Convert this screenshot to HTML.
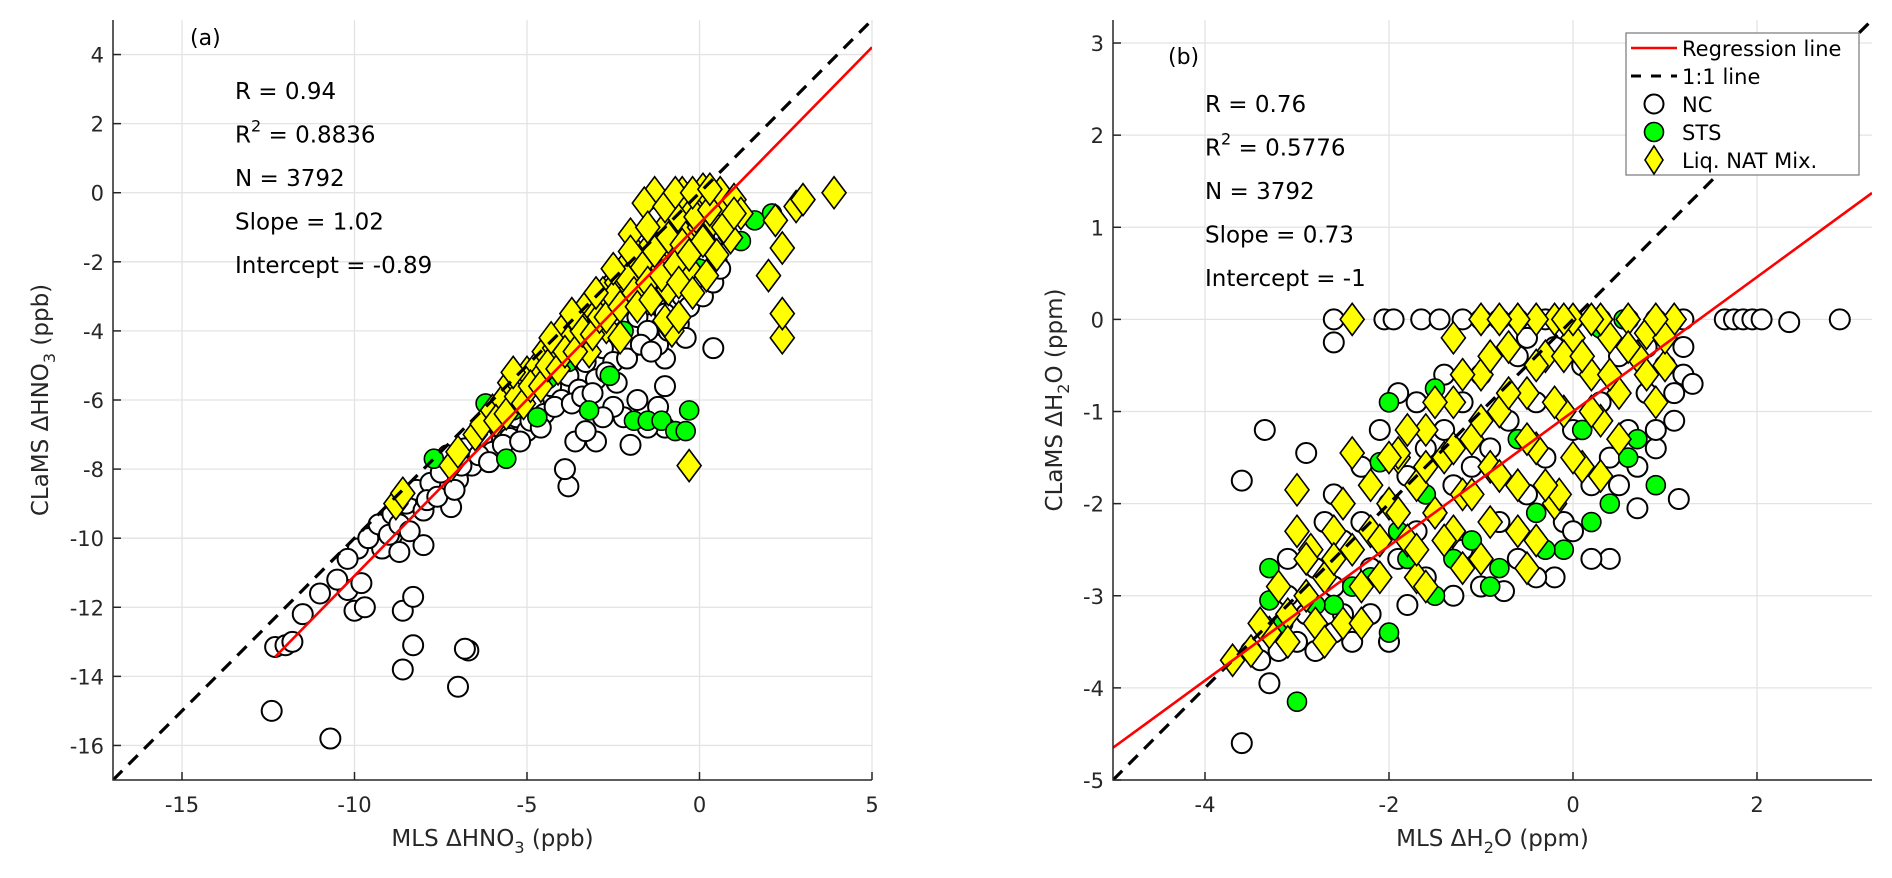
<!DOCTYPE html>
<html><head><meta charset="utf-8">
<style>
html,body{margin:0;padding:0;background:#fff;}
svg{display:block;font-family:"DejaVu Sans","Liberation Sans",sans-serif;}
</style></head>
<body>
<svg id="fig" width="1892" height="878" viewBox="0 0 1892 878" xmlns="http://www.w3.org/2000/svg"></svg>
<script>
// ---- Panel (a) data ----
const aXTicks=[-15,-10,-5,0,5];
const aYTicks=[-16,-14,-12,-10,-8,-6,-4,-2,0,2,4];
const aNC=[[-12.4,-15],[-10.7,-15.8],[-8.6,-13.8],[-7,-14.3],[-6.7,-13.25],[-6.8,-13.2],[-8.3,-13.1],[-8.6,-12.1],[-8.3,-11.7],[-10,-12.1],[-9.7,-12],[-10.2,-11.5],[-9.8,-11.3],[-12.3,-13.15],[-12,-13.1],[-11.8,-13],[-9.9,-10.3],[-9.2,-10.3],[-8.9,-9.9],[-8,-10.2],[-8.7,-10.4],[-7.2,-9.1],[-3.8,-8.5],[-3.9,-8],[-3,-7.2],[-3.6,-7.2],[-2,-7.3],[-2.2,-6.5],[-1.8,-6],[-1.2,-6.2],[-1,-5.6],[-1,-6.8],[-1.5,-6.8],[0.4,-4.5],[-1,-4.8],[-1.2,-4.4],[-2.5,-6.2],[-1.4,-3.8],
[-11.5,-12.2],[-11,-11.6],[-10.5,-11.2],[-10.2,-10.6],[-9.6,-10],[-9.3,-9.6],[-8.9,-9.3],[-8.5,-9],[-8.2,-8.6],[-8,-9.2],[-7.8,-8.4],[-7.5,-8.1],[-7.3,-7.6],[-7,-8.3],[-6.8,-7.4],[-6.6,-7.9],[-6.3,-7.1],[-6,-7.5],[-5.8,-6.8],[-5.5,-7.1],[-5.3,-6.5],[-5,-6.9],[-4.8,-6.1],[-4.5,-6.4],[-4.3,-5.6],[-4,-6],[-3.8,-5.3],[-3.5,-5.7],[-3.3,-4.9],[-3,-5.4],[-2.8,-4.5],[-2.5,-4.9],[-2.3,-4.1],[-2,-4.5],[-1.8,-3.6],[-1.5,-4],[-1.3,-3.2],[-1,-3.5],[-0.8,-2.7],[-0.5,-3],[-0.3,-2.2],[0,-2.5],[0.2,-1.7],[0.5,-2],[0.7,-1.2],[-1.2,-0.7],[-1.5,-1.3],[-0.9,-0.3],[-2,-2],[-3,-3.2],[-4,-4.3],[-5,-5.5],[-6,-6.4],[-3.5,-3.9],[-2.5,-2.6],[-1.7,-2.3],[-4.5,-4.8],[0.3,-0.4],[0.8,-0.8],[-0.5,-1],
[-9,-9.9],[-8.7,-9.6],[-8.4,-9.8],[-7.9,-8.9],[-7.6,-8.8],[-7.1,-8.6],[-6.9,-7.9],[-6.4,-7.6],[-6.1,-7.8],[-5.7,-7.3],[-5.2,-7.2],[-4.9,-6.6],[-4.6,-6.8],[-4.2,-6.2],[-3.7,-6.1],[-3.4,-5.9],[-3.1,-5.8],[-2.7,-5.2],[-2.4,-5.5],[-2.1,-4.8],[-1.7,-4.4],[-1.4,-4.6],[-0.9,-4],[-0.6,-3.8],[-0.3,-3.3],[0.1,-3],[0.4,-2.6],[0.6,-2.2],[-0.4,-4.2],[-2.8,-6.5],[-3.3,-6.9]];
const aSTS=[[-7.7,-7.7],[-5.6,-7.7],[-6.2,-6.1],[-5.4,-6.3],[-4.7,-6.5],[-3.2,-6.3],[-2.6,-5.3],[-1.9,-6.6],[-1.5,-6.6],[-1.1,-6.6],[-0.7,-6.9],[-0.4,-6.9],[-0.3,-6.3],[0.5,-1.8],[1.2,-1.4],[2.1,-0.6],[1.6,-0.8],[-3.8,-4.9],[-2.2,-4],[-1.2,-2.8],[0,-2.2],[-4.4,-5.4],[-3.3,-4.2]];
const aLNM=[[-8.8,-9],[-8.6,-8.7],[-7.2,-7.9],[-7,-7.5],[-6.5,-7],[-6.3,-6.7],[-6,-6.3],[-5.7,-6],[-5.5,-5.5],[-5.2,-5.6],[-5,-5.2],[-4.7,-5],[-4.5,-4.6],[-4.2,-4.5],[-4,-4],[-3.8,-4.3],[-3.5,-3.8],[-3.3,-3.3],[-3,-3.5],[-2.8,-2.9],[-2.6,-3.2],[-2.4,-2.6],[-2.2,-2.2],[-2,-2.8],[-1.8,-1.8],[-1.6,-2.3],[-1.4,-1.5],[-1.2,-2],[-1,-1],[-0.8,-1.6],[-0.6,-0.7],[-0.4,-1.3],[-0.2,-0.4],[0,-1],[0.2,-0.2],[0.4,-0.8],[0.6,0],[0.8,-0.5],[1,-0.2],[0.1,0.1],[-0.5,0],[-1.3,0],[-0.3,-2.2],[0.5,-1.8],[-0.8,-4],[-1,-3.7],[-0.6,-3.6],[-4.6,-5.3],[-3.2,-4.6],[-2.7,-3.9],[-0.3,-7.9],[2.4,-4.2],[2.4,-3.5],[2,-2.4],[2.4,-1.6],[2.2,-0.8],[2.8,-0.4],[3,-0.2],[3.9,0],[-1.6,-0.3],[-2,-1.2],[-0.9,-2.8],[0.9,-1.3],[1.2,-0.6],
[-5.9,-6.6],[-5.6,-6.4],[-5.3,-5.9],[-5.1,-6.1],[-4.9,-5.6],[-4.6,-5.6],[-4.4,-5],[-4.1,-5.1],[-3.9,-4.6],[-3.6,-4.6],[-3.4,-4],[-3.1,-4.1],[-2.9,-3.6],[-2.7,-3.6],[-2.5,-3],[-2.3,-3.3],[-2.1,-2.5],[-1.9,-2.9],[-1.7,-2.1],[-1.5,-2.6],[-1.3,-1.7],[-1.1,-2.4],[-0.9,-1.3],[-0.7,-2.1],[-0.5,-1.5],[-0.3,-1.8],[-0.1,-0.7],[0.1,-1.4],[0.3,-0.5],[0.7,-1],[1,-0.6],[-3.7,-3.5],[-3,-2.9],[-2.5,-2.2],[-2,-1.7],[-1.5,-1],[-1,-0.4],[-0.7,0],[-0.2,0],[0.3,0.1],[-4.3,-4.2],[-5.4,-5.2],[-2.3,-4.2],[-1.8,-3.3],[-1.4,-3.1],[-0.6,-2.6],[-0.2,-2.9],[0.2,-2.4]];
const aFit=[1.02,-0.89];
const aFitRange=[-12.3,5];
const aStats=["R = 0.94","R2 = 0.8836","N = 3792","Slope = 1.02","Intercept = -0.89"];

// ---- Panel (b) data ----
const bXTicks=[-4,-2,0,2];
const bYTicks=[-5,-4,-3,-2,-1,0,1,2,3];
const bNC=[[-2.6,0],[-2.05,0],[-1.95,0],[-1.65,0],[-1.45,0],[-1.2,0],[-1,0],[-0.8,0],[-0.6,0],[-0.3,0],[0,0],[0.3,0],[0.6,0],[0.9,0],[1.2,0],[1.65,0],[1.75,0],[1.85,0],[1.95,0],[2.05,0],[2.35,-0.03],[2.9,0],
[-3.5,-3.6],[-3.3,-3.4],[-3.1,-3],[-2.9,-3.2],[-2.8,-2.7],[-2.6,-2.9],[-2.5,-2.4],[-2.4,-3.5],[-2.3,-2.2],[-2.2,-2.7],[-2,-2],[-1.9,-2.6],[-1.8,-1.7],[-1.7,-2.3],[-1.6,-1.4],[-1.5,-2.1],[-1.4,-1.2],[-1.3,-1.8],[-1.2,-0.9],[-1.1,-1.6],[-1,-0.6],[-0.9,-1.4],[-0.8,-2.2],[-0.7,-1.1],[-0.6,-0.4],[-0.5,-1.9],[-0.4,-0.9],[-0.3,-1.5],[-0.2,-0.3],[-0.1,-2.2],[0,-1.2],[0.1,-0.5],[0.2,-1.8],[0.3,-0.9],[0.4,-1.5],[0.5,-0.4],[0.6,-1.2],[0.7,-2.05],[0.8,-0.8],[0.9,-1.4],[1,-0.5],[1.1,-1.1],[1.2,-0.6],[1.3,-0.7],[1.15,-1.95],[-0.75,-2.95],[-3.6,-1.75],[-3.35,-1.2],[-2.6,-0.25],[-2.9,-1.45],[-3.6,-4.6],[-3.3,-3.95],[-1.9,-0.8],[-2.1,-1.2],[-3.1,-2.6],[-2.7,-2.2],[0.4,-2.6],[-0.2,-2.8],[-1.3,-3],[-2,-3.5],[-2.5,-3.2],
[-3.4,-3.7],[-3.2,-3.6],[-3,-3.5],[-2.8,-3.6],[-2.6,-3.4],[-2.2,-3.2],[-1.8,-3.1],[-1.6,-2.8],[-1.2,-2.5],[-1,-2.9],[-0.6,-2.6],[-0.4,-2.8],[0,-2.3],[0.2,-2.6],[0.5,-1.8],[0.7,-1.6],[0.9,-1.2],[1.1,-0.8],[1.2,-0.3],[0.8,-0.3],[-1.7,-0.9],[-2.3,-1.6],[-2.6,-1.9],[-0.5,-0.2],[-1.4,-0.6]];
const bSTS=[[-3,-4.15],[-3.3,-2.7],[-3.3,-3.05],[-3.15,-3.3],[-2,-0.9],[-2.1,-1.55],[-1.5,-0.75],[0.3,-0.1],[0.55,0],[1,-0.05],[-0.1,-2.5],[0.2,-2.2],[-0.8,-2.7],[-2,-3.4],[-1.5,-3],[0.6,-1.5],[0.9,-1.8],[-1.1,-2.4],[-0.4,-2.1],[-2.4,-2.9],[-1.8,-2.6],[0.1,-1.2],[-2.6,-3.1],[-0.6,-1.3],
[-1.9,-2.3],[-1.3,-2.6],[-0.9,-2.9],[-0.3,-2.5],[0.4,-2],[0.7,-1.3],[-2.2,-2.8],[-1.6,-1.9],[-2.8,-3.1]];
const bLNM=[[-3.7,-3.7],[-3.5,-3.6],[-3.3,-3.4],[-3.1,-3.2],[-2.9,-3],[-2.7,-2.8],[-2.5,-3.3],[-2.4,-2.5],[-2.2,-2.3],[-2.1,-2.8],[-2,-2],[-1.9,-1.5],[-1.8,-2.4],[-1.7,-1.8],[-1.6,-1.2],[-1.5,-2.1],[-1.4,-1.5],[-1.3,-0.9],[-1.2,-2.7],[-1.2,-1.9],[-1.1,-1.3],[-1,-0.6],[-0.9,-2.2],[-0.9,-1.6],[-0.8,-1],[-0.7,-0.3],[-0.6,-1.8],[-0.5,-0.8],[-0.4,-1.4],[-0.3,-0.4],[-0.2,-2],[-0.1,-1],[0,-0.2],[0.1,-1.6],[0.2,-0.6],[0.3,-1.1],[0.4,-0.2],[0.5,-0.8],[0.7,-0.4],[0.9,-0.9],[1.1,0],[0.6,0],[0.3,0],[0,0],[-0.2,0],[-0.4,0],[-0.6,0],[-1,0],[-2.4,0],[-2.4,-1.45],[-3,-1.85],[-3,-2.3],[-2.85,-2.5],[-1.9,-1.45],[-0.4,-2.4],[-0.15,-1.9],[-2.3,-3.3],[-1.7,-2.8],[0.8,-0.15],[1,-0.5],[-2.6,-2.3],[-1.3,-2.3],
[-3.4,-3.3],[-3.2,-2.9],[-3.1,-3.5],[-2.9,-2.6],[-2.8,-3.3],[-2.6,-2.6],[-2.5,-2],[-2.3,-2.9],[-2.2,-1.8],[-2.1,-2.4],[-1.9,-2.1],[-1.8,-1.2],[-1.7,-2.5],[-1.6,-1.6],[-1.5,-0.9],[-1.4,-2.4],[-1.3,-1.4],[-1.2,-0.6],[-1.1,-1.9],[-1,-1.1],[-0.9,-0.4],[-0.8,-1.7],[-0.7,-0.8],[-0.6,-2.3],[-0.5,-1.3],[-0.4,-0.5],[-0.3,-1.8],[-0.2,-0.9],[-0.1,-0.4],[0,-1.5],[0.1,-0.4],[0.2,-1],[0.4,-0.6],[0.5,-1.3],[0.6,-0.3],[0.8,-0.6],[1,-0.2],[-0.8,0],[-0.1,0],[0.2,0],[0.9,0],[-1.6,-2.9],[-1.0,-2.6],[-2.7,-3.5],[-2.0,-1.5],[-1.3,-0.2],[-0.5,-2.7],[0.3,-1.7]];
const bFit=[0.73,-1];
const bFitRange=[-5,3.25];
const bStats=["R = 0.76","R2 = 0.5776","N = 3792","Slope = 0.73","Intercept = -1"];

const NS="http://www.w3.org/2000/svg";
const svg=document.getElementById('fig');
function mk(tag,attrs,parent){const e=document.createElementNS(NS,tag);for(const k in attrs)e.setAttribute(k,attrs[k]);(parent||svg).appendChild(e);return e;}

function panel(o){
  const g=mk('g',{});
  
  
  const sx=v=>o.L+(v-o.xmin)/(o.xmax-o.xmin)*(o.R-o.L);
  const sy=v=>o.B-(v-o.ymin)/(o.ymax-o.ymin)*(o.B-o.T);
  o.xt.forEach(t=>{const l=mk('line',{x1:sx(t),x2:sx(t),y1:o.T,y2:o.B,stroke:'#e3e3e3','stroke-width':1.3},g);
    });
  o.yt.forEach(t=>{const l=mk('line',{x1:o.L,x2:o.R,y1:sy(t),y2:sy(t),stroke:'#e3e3e3','stroke-width':1.3},g);
    });
  const clip=mk('clipPath',{id:o.name+'-clip'},g);
  mk('rect',{x:o.L,y:o.T,width:o.R-o.L,height:o.B-o.T},clip);
  const pg=mk('g',{'clip-path':'url(#'+o.name+'-clip)'},g);
  o.nc.forEach(p=>{const c=mk('circle',{cx:sx(p[0]),cy:sy(p[1]),r:10,fill:'#fff',stroke:'#000','stroke-width':2},pg);
    });
  o.sts.forEach(p=>{const c=mk('circle',{cx:sx(p[0]),cy:sy(p[1]),r:9.5,fill:'#00ff00',stroke:'#000','stroke-width':1.6},pg);
    });
  o.lnm.forEach(p=>{const x=sx(p[0]),y=sy(p[1]);
    const d=mk('polygon',{points:`${x},${y-16} ${x+12},${y} ${x},${y+16} ${x-12},${y}`,fill:'#ffff00',stroke:'#000','stroke-width':1.6},pg);
    });
  const lo=Math.max(o.xmin,o.ymin),hi=Math.min(o.xmax,o.ymax);
  const ol=mk('line',{x1:sx(lo),y1:sy(lo),x2:sx(hi),y2:sy(hi),stroke:'#000','stroke-width':3.2,'stroke-dasharray':'13,9'},pg);
  
  const f=x=>o.fit[0]*x+o.fit[1];
  const rl=mk('line',{x1:sx(o.fr[0]),y1:sy(f(o.fr[0])),x2:sx(o.fr[1]),y2:sy(f(o.fr[1])),stroke:'#ff0000','stroke-width':2.6},pg);
  
  const ax=mk('path',{d:`M${o.L},${o.T} L${o.L},${o.B} L${o.R},${o.B}`,fill:'none',stroke:'#262626','stroke-width':1.5},g);
  
  o.xt.forEach(t=>{mk('line',{x1:sx(t),x2:sx(t),y1:o.B,y2:o.B-8,stroke:'#262626','stroke-width':1.5},g);
    const tx=mk('text',{x:sx(t),y:812,'text-anchor':'middle','font-size':21,fill:'#262626'},g);tx.textContent=t;
    });
  o.yt.forEach(t=>{mk('line',{x1:o.L,x2:o.L+8,y1:sy(t),y2:sy(t),stroke:'#262626','stroke-width':1.5},g);
    const tx=mk('text',{x:o.L-9,y:sy(t)+8,'text-anchor':'end','font-size':21,fill:'#262626'},g);tx.textContent=t;
    });
  const lab=mk('text',{x:o.lx,y:o.ly,'font-size':22,fill:'#000'},g);lab.textContent=o.label;
  
  o.stats.forEach((s,i)=>{const t=mk('text',{x:o.sx,y:o.sy+i*43.5,'font-size':23,fill:'#000'},g);
    if(s.startsWith('R2')){t.textContent='R';const sp=mk('tspan',{dy:-11,'font-size':16},t);sp.textContent='2';const r=mk('tspan',{dy:11},t);r.textContent=s.slice(2);}
    else t.textContent=s;
    });
  const xl=mk('text',{x:(o.L+o.R)/2,y:846,'text-anchor':'middle','font-size':23,fill:'#262626'},g);
  xl.innerHTML=o.xlab;
  const yl=mk('text',{x:0,y:0,'text-anchor':'middle','font-size':23,fill:'#262626',transform:`translate(${o.ylx},${(o.T+o.B)/2}) rotate(-90)`},g);
  yl.innerHTML=o.ylab;
}

panel({name:'panel-a',L:113,R:872,T:20,B:780,xmin:-17,xmax:5,ymin:-17,ymax:5,xt:aXTicks,yt:aYTicks,nc:aNC,sts:aSTS,lnm:aLNM,fit:aFit,fr:aFitRange,
  stats:aStats,sx:235,sy:99,label:'(a)',lx:190,ly:45,
  xlab:'MLS ΔHNO<tspan dy="7" font-size="16">3</tspan><tspan dy="-7"> (ppb)</tspan>',
  ylab:'CLaMS ΔHNO<tspan dy="7" font-size="16">3</tspan><tspan dy="-7"> (ppb)</tspan>',ylx:48});
panel({name:'panel-b',L:1113,R:1872,T:20,B:780,xmin:-5,xmax:3.25,ymin:-5,ymax:3.25,xt:bXTicks,yt:bYTicks,nc:bNC,sts:bSTS,lnm:bLNM,fit:bFit,fr:bFitRange,
  stats:bStats,sx:1205,sy:112,label:'(b)',lx:1168,ly:64,
  xlab:'MLS ΔH<tspan dy="7" font-size="16">2</tspan><tspan dy="-7">O (ppm)</tspan>',
  ylab:'CLaMS ΔH<tspan dy="7" font-size="16">2</tspan><tspan dy="-7">O (ppm)</tspan>',ylx:1062});

const lg=mk('g',{});


mk('rect',{x:1626,y:33,width:233,height:142,fill:'#fff',stroke:'#777','stroke-width':1.2},lg);
const rows=[48,76,104,132,160];
const names=['Regression line','1:1 line','NC','STS','Liq. NAT Mix.'];
mk('line',{x1:1631,x2:1677,y1:48,y2:48,stroke:'#ff0000','stroke-width':2.6},lg);
mk('line',{x1:1631,x2:1677,y1:76,y2:76,stroke:'#000','stroke-width':3,'stroke-dasharray':'10,10'},lg);
mk('circle',{cx:1654,cy:104,r:9.5,fill:'#fff',stroke:'#000','stroke-width':2},lg);
mk('circle',{cx:1654,cy:132,r:9.5,fill:'#00ff00',stroke:'#000','stroke-width':1.6},lg);
mk('polygon',{points:'1654,146 1663,160 1654,174 1645,160',fill:'#ffff00',stroke:'#000','stroke-width':1.6},lg);
names.forEach((n,i)=>{const t=mk('text',{x:1682,y:rows[i]+8,'font-size':21,fill:'#000'},lg);t.textContent=n;
  });
</script>
</body></html>
